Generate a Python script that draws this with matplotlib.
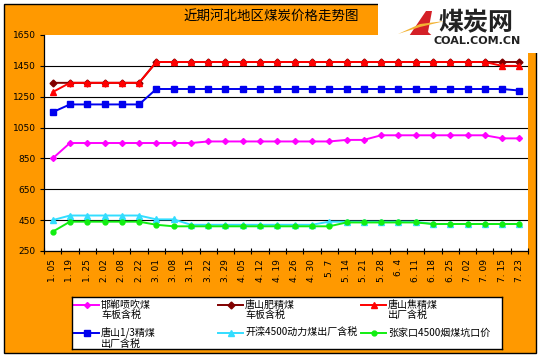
import numpy as np
import matplotlib
matplotlib.use("Agg")
import matplotlib.pyplot as plt
from matplotlib.patches import Rectangle, Polygon

plt.rcParams['font.family'] = ['Noto Sans CJK SC', 'DejaVu Sans']

# dates on the category axis
dates = ['1. 05', '1. 19', '1. 25', '2. 02', '2. 08', '2. 22', '3. 01', '3. 08',
         '3. 15', '3. 22', '3. 29', '4. 05', '4. 12', '4. 19', '4. 26', '4. 30',
         '5. 7', '5. 14', '5. 21', '5. 28', '6. 4', '6. 11', '6. 18', '6. 25',
         '7. 02', '7. 09', '7. 15', '7. 23']

handan_pci = [850] + [950] * 8 + [960] * 8 + [970] * 2 + [1000] * 7 + [980] * 2
ts_fat = [1340] * 6 + [1475] * 22
ts_coking = [1280] + [1340] * 5 + [1475] * 20 + [1450] * 2
ts_13 = [1150] + [1200] * 5 + [1300] * 21 + [1290]
kailuan = [450] + [480] * 5 + [455, 455] + [420] * 8 + [440] * 6 + [425] * 6
zjk = [375] + [440] * 5 + [420] + [410] * 10 + [435] * 5 + [425] * 6

labels = ['邯郸喷吹煤\n车板含税', '唐山肥精煤\n车板含税', '唐山焦精煤\n出厂含税',
          '唐山1/3精煤\n出厂含税', '开滦4500动力煤出厂含税', '张家口4500烟煤坑口价']
series = [handan_pci, ts_fat, ts_coking, ts_13, kailuan, zjk]
colors = ['#FF00FF', '#800000', '#FF0000', '#0000EE', '#33DDFF', '#11EE11']
markers = ['D', 'D', '^', 's', '^', 'o']
msizes = [3, 3.5, 4, 4, 4, 3.5]

W, H = 541, 358
fig = plt.figure(figsize=(W / 100, H / 100), dpi=100, facecolor='white')


def fx(px):
    return px / W


def fy(py):
    return 1 - py / H


# orange chart background and white logo box
fig.add_artist(Rectangle((fx(4), fy(353)), fx(532), 349 / H, transform=fig.transFigure,
                         facecolor='#FF9900', edgecolor='black', lw=1, zorder=0))
fig.add_artist(Rectangle((fx(378), fy(53)), fx(163), 53 / H, transform=fig.transFigure,
                         facecolor='white', edgecolor='none', zorder=1))

fig.text(fx(271), fy(16), '近期河北地区煤炭价格走势图', ha='center', va='center',
         fontsize=9.7, color='black', zorder=3)

# logo
fig.add_artist(Polygon([(fx(403), fy(45)), (fx(426), fy(11)), (fx(432), fy(11)),
                        (fx(428), fy(32)), (fx(438), fy(41)), (fx(434), fy(46))],
                       closed=True, transform=fig.transFigure, facecolor='#D42027',
                       edgecolor='none', zorder=2))
fig.add_artist(Polygon([(fx(398), fy(34)), (fx(420), fy(24)), (fx(445), fy(21)),
                        (fx(420), fy(27))],
                       closed=True, transform=fig.transFigure, facecolor='#F2B233',
                       edgecolor='none', zorder=2))
fig.text(fx(476), fy(23), '煤炭网', ha='center', va='center', fontsize=18,
         fontweight='bold', color='#222222', zorder=3)
fig.text(fx(477), fy(41), 'COAL.COM.CN', ha='center', va='center', fontsize=8,
         fontweight='bold', color='#222222', family='DejaVu Sans', zorder=3)

# plot area
ax = fig.add_axes([fx(44), fy(251), fx(484), 216 / H], zorder=2)
ax.set_facecolor('white')
x = np.arange(len(dates))
for vals, c, m, ms in zip(series, colors, markers, msizes):
    ax.plot(x, vals, color=c, lw=1.4, marker=m, markersize=ms,
            markeredgecolor=c, markerfacecolor=c)

ax.set_xlim(-0.5, len(dates) - 0.5)
ax.set_ylim(250, 1650)
ax.set_yticks(range(250, 1651, 200))
ax.set_xticks(x)
ax.set_xticklabels(dates, rotation=90, fontsize=6.5, family='DejaVu Sans')
ax.set_xticks(np.arange(-0.5, len(dates), 1), minor=True)
ax.tick_params(axis='x', which='major', length=0, pad=6)
ax.tick_params(axis='x', which='minor', direction='inout', length=5, width=0.8)
ax.tick_params(axis='y', direction='out', length=3, width=0.8, pad=3)
for t in ax.get_yticklabels():
    t.set_fontsize(6.5)
    t.set_family('DejaVu Sans')
ax.grid(axis='y', color='black', lw=0.8)
ax.yaxis.get_gridlines()[-1].set_visible(False)
ax.set_axisbelow(True)
for s in ['top', 'right']:
    ax.spines[s].set_visible(False)
for s in ['left', 'bottom']:
    ax.spines[s].set_color('black')
    ax.spines[s].set_linewidth(0.9)

# legend box
lax = fig.add_axes([fx(72), fy(349), fx(430), 52 / H], zorder=2)
lax.set_xlim(72, 502)
lax.set_ylim(349, 297)
lax.set_xticks([])
lax.set_yticks([])
lax.set_facecolor('white')
for s in lax.spines.values():
    s.set_color('black')
    s.set_linewidth(1)
col_x = [74, 218, 361]
row_y = [305, 333]
for k, (lab, c, m, ms) in enumerate(zip(labels, colors, markers, msizes)):
    x0 = col_x[k % 3]
    y0 = row_y[k // 3]
    lax.plot([x0, x0 + 12.5, x0 + 25], [y0, y0, y0], color=c, lw=1.4, marker=m,
             markersize=ms, markevery=[1], markeredgecolor=c, markerfacecolor=c)
    lax.text(x0 + 27, y0 - 5.5, lab, ha='left', va='top', fontsize=7.2,
             linespacing=1.05)

fig.savefig('out.png', dpi=100)
